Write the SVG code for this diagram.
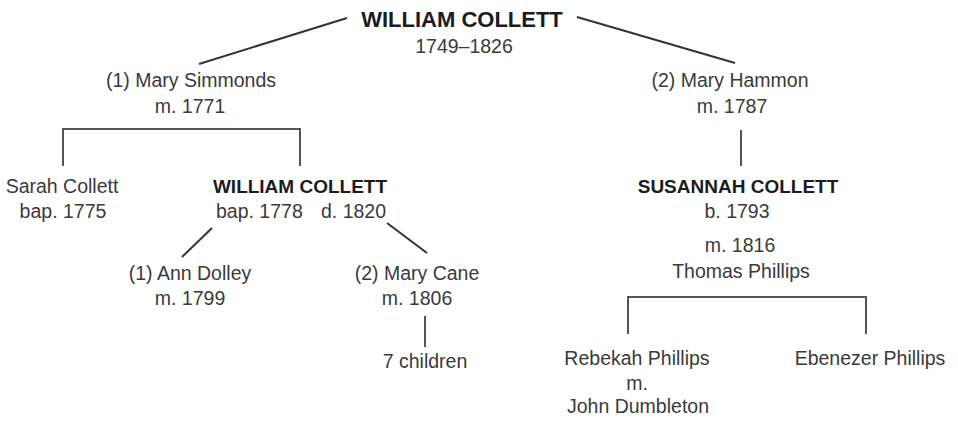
<svg xmlns="http://www.w3.org/2000/svg" width="958" height="422" viewBox="0 0 958 422">
<style>
text{font-family:"Liberation Sans",Arial,sans-serif;font-size:19.5px;fill:#3a3a3a;text-anchor:middle}
text.b{font-weight:bold;fill:#1c1c1c;font-size:19px}
text.t{font-size:22px}
text.s{text-anchor:start}
.c line,.c path{stroke:#333;stroke-width:2;fill:none}
.c path{stroke:#555}
</style>
<rect width="958" height="422" fill="#fff"/>
<g class="c" id="connectors">
<line x1="347" y1="18" x2="199" y2="64"/>
<line x1="577" y1="17" x2="735" y2="63"/>
<path d="M63,166 V129 H300 V166"/>
<line x1="741" y1="130" x2="741" y2="166" style="stroke:#555"/>
<line x1="212" y1="228" x2="182" y2="257"/>
<line x1="387" y1="223" x2="427" y2="253"/>
<line x1="425" y1="316" x2="425" y2="347" style="stroke:#555"/>
<path d="M628,334 V297 H866 V334"/>
</g>
<g id="william-sr"><text class="b t" x="462" y="27">WILLIAM COLLETT</text><text x="464" y="53">1749–1826</text></g>
<g id="mary-simmonds"><text x="191" y="87">(1) Mary Simmonds</text><text x="190" y="113">m. 1771</text></g>
<g id="mary-hammon"><text x="730" y="87">(2) Mary Hammon</text><text x="732" y="113">m. 1787</text></g>
<g id="sarah"><text x="62" y="193">Sarah Collett</text><text x="63" y="218">bap. 1775</text></g>
<g id="william-jr"><text class="b" x="300" y="193">WILLIAM COLLETT</text><text class="s" x="216" y="218">bap. 1778</text><text class="s" x="321" y="218">d. 1820</text></g>
<g id="susannah"><text class="b" x="738" y="193">SUSANNAH COLLETT</text><text x="737" y="218">b. 1793</text><text x="740" y="252">m. 1816</text><text x="741" y="278">Thomas Phillips</text></g>
<g id="ann-dolley"><text x="190" y="280">(1) Ann Dolley</text><text x="190" y="305">m. 1799</text></g>
<g id="mary-cane"><text x="417" y="280">(2) Mary Cane</text><text x="417" y="305">m. 1806</text></g>
<g id="children"><text x="425" y="368">7 children</text></g>
<g id="rebekah"><text x="637" y="365">Rebekah Phillips</text><text x="637" y="390">m.</text><text x="638" y="413">John Dumbleton</text></g>
<g id="ebenezer"><text x="870" y="365">Ebenezer Phillips</text></g>
</svg>
